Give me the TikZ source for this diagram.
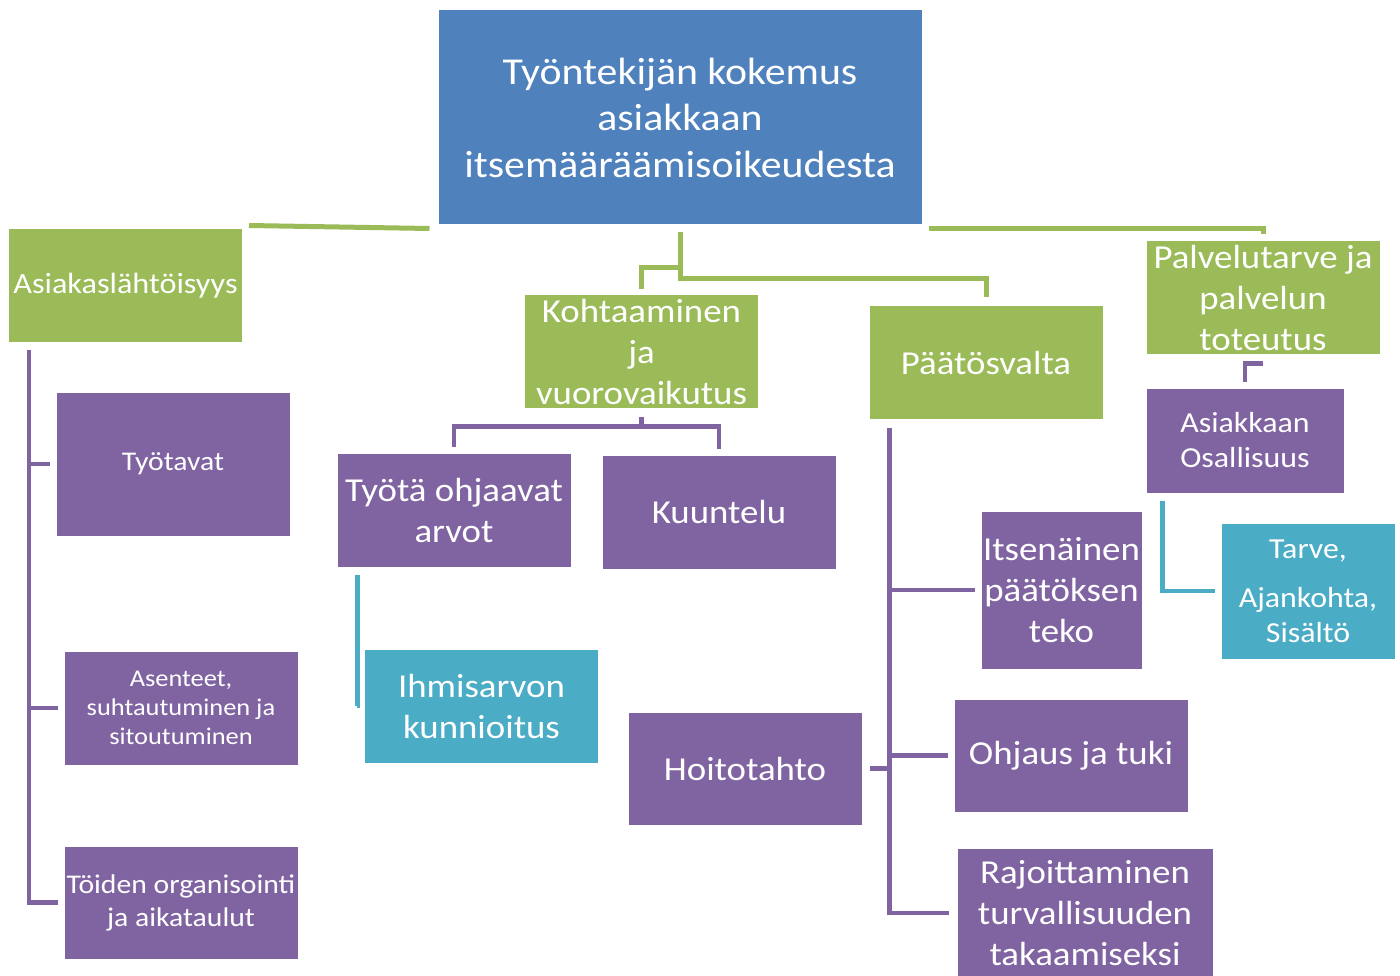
\documentclass[tikz,border=0pt]{standalone}
\usepackage{fontspec}
\setmainfont{Carlito}[FakeStretch=1.1]
\usepackage{xcolor}
\usepackage{tikz}
\usetikzlibrary{math}

\definecolor{sininen}{HTML}{4F81BD}
\definecolor{vihrea}{HTML}{9BBB59}
\definecolor{violetti}{HTML}{8064A2}
\definecolor{turkoosi}{HTML}{4BACC6}

\begin{document}
\begin{tikzpicture}[x=1pt,y=-1pt,
	box/.style={rectangle,draw=white,line width=1pt,text=white,inner sep=0pt,align=center},
	f38/.style={font=\fontsize{38}{46.5}\selectfont},
	f33/.style={font=\fontsize{33.5}{41}\selectfont},
	f30/.style={font=\fontsize{29.3}{36}\selectfont},
	f29/.style={font=\fontsize{29}{35}\selectfont},
	f27/.style={font=\fontsize{27}{33}\selectfont},
	f24/.style={font=\fontsize{24}{29}\selectfont},
	gline/.style={draw=vihrea,line width=5pt},
	pline/.style={draw=violetti,line width=4.5pt},
	tline/.style={draw=turkoosi,line width=4.5pt}]
\useasboundingbox (0,0) rectangle (1400,976);
\tikzmath{
	\w = 234;\h = 113;
	% ylin taso
	{\node[box,f38,fill=sininen,minimum width=484pt,minimum height=215pt] (root) at (680,117.5) {Työntekijän kokemus\\asiakkaan\\itsemääräämisoikeudesta};};
	{\node[box,f30,fill=vihrea,minimum width=\w pt,minimum height=\h pt] (asi) at (125.5,285.5) {Asiakaslähtöisyys};};
	{\node[box,f33,fill=vihrea,minimum width=\w pt,minimum height=\h pt] (koh) at (641.5,351.5) {Kohtaaminen\\ja\\vuorovaikutus};};
	{\node[box,f33,fill=vihrea,minimum width=\w pt,minimum height=\h pt] (pat) at (986,362.5) {Päätösvalta};};
	{\node[box,f33,fill=vihrea,minimum width=\w pt,minimum height=\h pt] (pal) at (1263,297.5) {Palvelutarve ja\\palvelun\\toteutus};};
	% vasen sarake
	{\node[box,f27,fill=violetti,minimum width=\w pt,minimum height=144pt] (tyo) at (173,464) {Työtavat};};
	{\node[box,f24,fill=violetti,minimum width=\w pt,minimum height=114pt] (ase) at (181,708) {Asenteet,\\suhtautuminen ja\\sitoutuminen};};
	{\node[box,f27,fill=violetti,minimum width=\w pt,minimum height=\h pt] (toi) at (181,902.5) {Töiden organisointi\\ja aikataulut};};
	% keskella
	{\node[box,f33,fill=violetti,minimum width=\w pt,minimum height=114pt] (arv) at (454,510) {Työtä ohjaavat\\arvot};};
	{\node[box,f33,fill=violetti,minimum width=\w pt,minimum height=114pt] (kuu) at (719,512) {Kuuntelu};};
	{\node[box,f33,fill=turkoosi,minimum width=\w pt,minimum height=114pt] (ihm) at (481.5,706) {Ihmisarvon\\kunnioitus};};
	{\node[box,f33,fill=violetti,minimum width=\w pt,minimum height=\h pt] (hoi) at (745,768.5) {Hoitotahto};};
	% oikealla
	{\node[box,f33,fill=violetti,minimum width=161pt,minimum height=158pt] (its) at (1061.5,590) {Itsenäinen\\päätöksen\\teko};};
	{\node[box,f33,fill=violetti,minimum width=\w pt,minimum height=\h pt] (ohj) at (1071,755.5) {Ohjaus ja tuki};};
	{\node[box,f33,fill=violetti,minimum width=256pt,minimum height=130pt] (raj) at (1085,913) {Rajoittaminen\\turvallisuuden\\takaamiseksi};};
	{\node[box,f29,fill=violetti,minimum width=198pt,minimum height=105pt] (osa) at (1245,440.5) {Asiakkaan\\Osallisuus};};
	{\node[box,f29,fill=turkoosi,minimum width=174pt,minimum height=136pt] (tar) at (1308,591) {Tarve,\\[14pt]Ajankohta,\\Sisältö};};
	%
	{\draw[gline] ([xshift=6pt,yshift=3pt]asi.north east) -- ([xshift=-8pt,yshift=-3pt]root.south west);};
	{\draw[gline] ([yshift=-7pt]root.south) -- ++(0,46) -| ([yshift=8pt]pat.north);};
	{\draw[gline] ([yshift=-42pt]root.south) -| ([yshift=5pt]koh.north);};
	{\draw[gline] ([xshift=6pt,yshift=-3pt]root.south east) -| ([yshift=6pt]pal.north);};
	%
	{\coordinate (l0) at ([xshift=21pt,yshift=-7pt]asi.south west);};
	{\draw[pline] (l0) |- ([xshift=-6pt]toi.west);};
	{\draw[pline] (l0 |- tyo.west) -- ([xshift=-6pt]tyo.west);};
	{\draw[pline] (l0 |- ase.west) -- ([xshift=-6pt]ase.west);};
	%
	{\coordinate (k0) at ([yshift=-18pt]koh.south);};
	{\draw[pline] ([yshift=-8pt]koh.south) -- (k0);};
	{\draw[pline] ([yshift=6pt]arv.north) |- (k0);};
	{\draw[pline] ([yshift=6pt]kuu.north) |- (k0);};
	{\draw[tline] ([xshift=21pt,yshift=-7pt]arv.south west) |- ([xshift=-7pt]ihm.west);};
	%
	{\coordinate (p0) at ([xshift=21pt,yshift=-8pt]pat.south west);};
	{\draw[pline] (p0) |- ([xshift=-8pt]raj.west);};
	{\draw[pline] (p0 |- its.west) -- ([xshift=-6pt]its.west);};
	{\draw[pline] (p0 |- ohj.west) -- ([xshift=-6pt]ohj.west);};
	{\draw[pline] ([xshift=7pt]hoi.east) -- (p0 |- hoi.east);};
	%
	{\draw[pline] ([yshift=6pt]osa.north) |- ([yshift=-9pt]pal.south);};
	{\draw[tline] ([xshift=17pt,yshift=-7pt]osa.south west) |- ([xshift=-6pt]tar.west);};
};
\end{tikzpicture}
\end{document}
